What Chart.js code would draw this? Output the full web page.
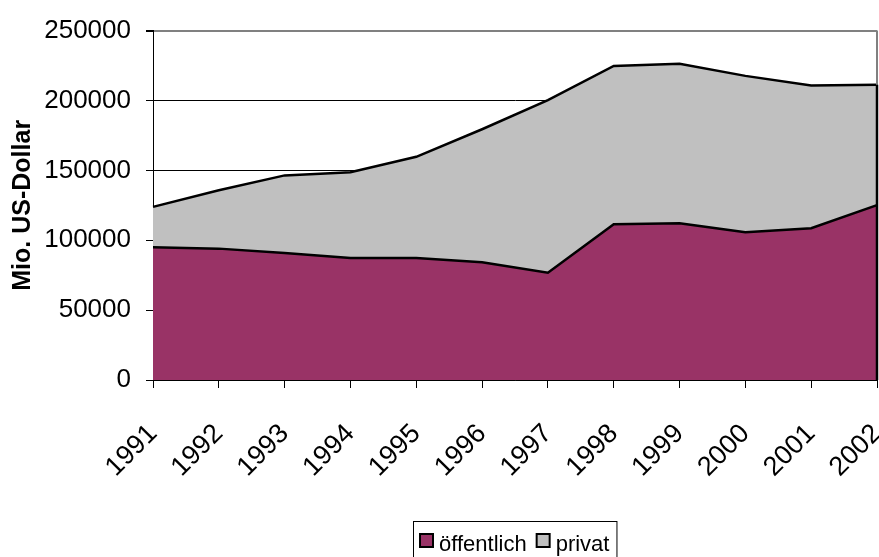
<!DOCTYPE html>
<html>
<head>
<meta charset="utf-8">
<script src="https://cdn.jsdelivr.net/npm/chart.js@4"></script>
<style>
  body { margin: 0; background: #fff; }
  #wrap { width: 879px; height: 557px; }
</style>
</head>
<body>
<div id="wrap"><canvas id="chart" width="879" height="557"></canvas></div>
<script>
const years = ["1991", "1992", "1993", "1994", "1995", "1996", "1997", "1998", "1999", "2000", "2001", "2002"];
// Mio. US-Dollar
const oeffentlich = [94900, 94000, 90900, 87300, 87300, 84300, 76700, 111500, 112100, 105700, 108600, 125100];
const privat = [29000, 41800, 55500, 61400, 72400, 95100, 123500, 113200, 114200, 111900, 102200, 86200];
const yTicks = [0, 50000, 100000, 150000, 200000, 250000];

const FONT = "'Liberation Sans', Arial, sans-serif";

// gray plot border on the right + black edge of the area at the last year
const frame = {
  id: "frame",
  afterDatasetsDraw(chart) {
    const { ctx, chartArea: a, scales } = chart;
    ctx.save();
    ctx.strokeStyle = "#808080";
    ctx.lineWidth = 2;
    ctx.beginPath();
    ctx.moveTo(a.right, a.top);
    ctx.lineTo(a.right, a.bottom);
    ctx.stroke();
    const last = years.length - 1;
    const x = scales.x.getPixelForValue(last);
    ctx.strokeStyle = "#000";
    ctx.lineWidth = 2.5;
    ctx.beginPath();
    ctx.moveTo(x, scales.y.getPixelForValue(oeffentlich[last] + privat[last]));
    ctx.lineTo(x, a.bottom);
    ctx.stroke();
    ctx.restore();
  },
};

// Excel-style legend box under the plot, centred on the plot area
const boxLegend = {
  id: "boxLegend",
  afterDraw(chart) {
    const { ctx, chartArea: a } = chart;
    const sets = chart.data.datasets;
    ctx.save();
    ctx.font = "22px " + FONT;
    ctx.textBaseline = "alphabetic";
    const widths = sets.map((d) => ctx.measureText(d.label).width);
    const total = widths.reduce((s, w) => s + w + 29, 0) + 4;
    let left = Math.round((a.left + a.right) / 2 - total / 2);
    ctx.strokeStyle = "#000";
    ctx.lineWidth = 1;
    ctx.strokeRect(left + 0.5, 521.5, total, 50);
    let x = left + 7;
    sets.forEach((d, i) => {
      ctx.fillStyle = d.backgroundColor;
      ctx.fillRect(x, 534, 13, 13);
      ctx.lineWidth = 2;
      ctx.strokeRect(x, 534, 13, 13);
      ctx.fillStyle = "#000";
      ctx.fillText(d.label, x + 19, 551);
      x += widths[i] + 29;
    });
    ctx.restore();
  },
};

new Chart(document.getElementById("chart"), {
  type: "line",
  data: {
    labels: years,
    datasets: [
      {
        label: "öffentlich",
        data: oeffentlich,
        backgroundColor: "#993366",
        borderColor: "#000",
        borderWidth: 2.5,
        fill: "origin",
        pointRadius: 0,
        tension: 0,
      },
      {
        label: "privat",
        data: privat,
        backgroundColor: "#C0C0C0",
        borderColor: "#000",
        borderWidth: 2.5,
        fill: "-1",
        pointRadius: 0,
        tension: 0,
      },
    ],
  },
  options: {
    responsive: false,
    animation: false,
    layout: { padding: { top: 27, right: 2, left: 0, bottom: 0 } },
    plugins: {
      legend: { display: false },
      tooltip: { enabled: false },
    },
    scales: {
      x: {
        offset: false,
        grid: { drawOnChartArea: false, drawTicks: true, tickLength: 8, color: "#000" },
        border: { color: "#000", width: 1 },
        ticks: {
          color: "#000",
          font: { family: FONT, size: 27 },
          minRotation: 45,
          maxRotation: 45,
          padding: 30,
          autoSkip: false,
        },
        afterFit(scale) {
          scale.height = 177;
          scale.paddingRight = 2;
        },
      },
      y: {
        stacked: true,
        min: 0,
        max: 250000,
        afterBuildTicks(scale) {
          scale.ticks = yTicks.map((v) => ({ value: v }));
        },
        grid: {
          color: (c) => (c.tick && c.tick.value === 250000 ? "#808080" : "#000"),
          lineWidth: (c) => (c.tick && c.tick.value === 250000 ? 2 : 1),
          tickColor: "#000",
          tickLength: 7,
        },
        border: { color: "#000", width: 1 },
        ticks: {
          color: "#000",
          font: { family: FONT, size: 26 },
          padding: 15,
          callback: (v) => String(v),
        },
        title: {
          display: true,
          text: "Mio. US-Dollar",
          color: "#000",
          font: { family: FONT, size: 25, weight: "bold" },
          padding: { top: 8, bottom: 4 },
        },
        afterFit(scale) {
          scale.width = 153;
        },
      },
    },
  },
  plugins: [frame, boxLegend],
});
</script>
</body>
</html>
